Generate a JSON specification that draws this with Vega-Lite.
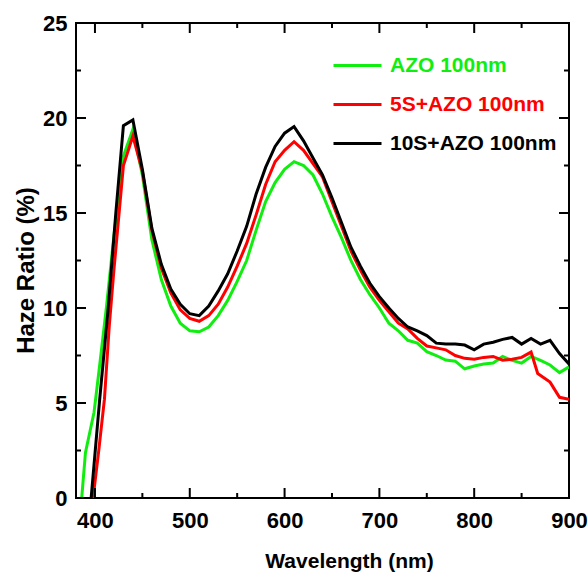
{
  "$schema": "https://vega.github.io/schema/vega-lite/v6.json",
  "width": 493,
  "height": 475,
  "autosize": "none",
  "padding": {"left": 76, "top": 23, "right": 19, "bottom": 78},
  "background": "white",
  "config": {
    "view": {"stroke": "black", "strokeWidth": 2},
    "font": "Liberation Sans",
    "axis": {"grid": false, "domain": false, "ticks": false, "labelColor": "black", "titleColor": "black", "labelFont": "Liberation Sans", "titleFont": "Liberation Sans"}
  },
  "datasets": {
    "xmajor": [{"wl": 400}, {"wl": 500}, {"wl": 600}, {"wl": 700}, {"wl": 800}, {"wl": 900}],
    "xminor": [{"wl": 450}, {"wl": 550}, {"wl": 650}, {"wl": 750}, {"wl": 850}],
    "ymajor": [{"v": 0}, {"v": 5}, {"v": 10}, {"v": 15}, {"v": 20}, {"v": 25}],
    "yminor": [{"v": 2.5}, {"v": 7.5}, {"v": 12.5}, {"v": 17.5}, {"v": 22.5}],
    "haze": [
    {"s": "AZO 100nm", "wl": 386, "v": 0},
    {"s": "AZO 100nm", "wl": 390, "v": 2.4},
    {"s": "AZO 100nm", "wl": 399, "v": 4.5},
    {"s": "AZO 100nm", "wl": 405, "v": 7.0},
    {"s": "AZO 100nm", "wl": 412, "v": 10.0},
    {"s": "AZO 100nm", "wl": 420, "v": 13.8},
    {"s": "AZO 100nm", "wl": 430, "v": 18.0},
    {"s": "AZO 100nm", "wl": 440, "v": 19.4},
    {"s": "AZO 100nm", "wl": 450, "v": 17.0},
    {"s": "AZO 100nm", "wl": 460, "v": 13.6},
    {"s": "AZO 100nm", "wl": 470, "v": 11.5},
    {"s": "AZO 100nm", "wl": 480, "v": 10.1},
    {"s": "AZO 100nm", "wl": 490, "v": 9.2},
    {"s": "AZO 100nm", "wl": 500, "v": 8.8},
    {"s": "AZO 100nm", "wl": 510, "v": 8.75},
    {"s": "AZO 100nm", "wl": 520, "v": 9.0},
    {"s": "AZO 100nm", "wl": 530, "v": 9.6},
    {"s": "AZO 100nm", "wl": 540, "v": 10.4},
    {"s": "AZO 100nm", "wl": 550, "v": 11.4},
    {"s": "AZO 100nm", "wl": 560, "v": 12.5},
    {"s": "AZO 100nm", "wl": 570, "v": 14.1},
    {"s": "AZO 100nm", "wl": 580, "v": 15.6},
    {"s": "AZO 100nm", "wl": 590, "v": 16.6},
    {"s": "AZO 100nm", "wl": 600, "v": 17.3},
    {"s": "AZO 100nm", "wl": 610, "v": 17.7},
    {"s": "AZO 100nm", "wl": 620, "v": 17.5},
    {"s": "AZO 100nm", "wl": 630, "v": 17.0},
    {"s": "AZO 100nm", "wl": 640, "v": 16.0},
    {"s": "AZO 100nm", "wl": 650, "v": 14.8},
    {"s": "AZO 100nm", "wl": 660, "v": 13.7},
    {"s": "AZO 100nm", "wl": 670, "v": 12.5},
    {"s": "AZO 100nm", "wl": 680, "v": 11.5},
    {"s": "AZO 100nm", "wl": 690, "v": 10.7},
    {"s": "AZO 100nm", "wl": 700, "v": 10.0},
    {"s": "AZO 100nm", "wl": 710, "v": 9.2},
    {"s": "AZO 100nm", "wl": 720, "v": 8.8},
    {"s": "AZO 100nm", "wl": 730, "v": 8.3},
    {"s": "AZO 100nm", "wl": 740, "v": 8.15},
    {"s": "AZO 100nm", "wl": 750, "v": 7.7},
    {"s": "AZO 100nm", "wl": 760, "v": 7.5},
    {"s": "AZO 100nm", "wl": 770, "v": 7.26},
    {"s": "AZO 100nm", "wl": 780, "v": 7.2},
    {"s": "AZO 100nm", "wl": 790, "v": 6.8},
    {"s": "AZO 100nm", "wl": 800, "v": 6.95},
    {"s": "AZO 100nm", "wl": 810, "v": 7.05},
    {"s": "AZO 100nm", "wl": 820, "v": 7.1},
    {"s": "AZO 100nm", "wl": 830, "v": 7.45},
    {"s": "AZO 100nm", "wl": 840, "v": 7.24},
    {"s": "AZO 100nm", "wl": 850, "v": 7.1},
    {"s": "AZO 100nm", "wl": 860, "v": 7.45},
    {"s": "AZO 100nm", "wl": 870, "v": 7.24},
    {"s": "AZO 100nm", "wl": 880, "v": 7.0},
    {"s": "AZO 100nm", "wl": 890, "v": 6.6},
    {"s": "AZO 100nm", "wl": 900, "v": 6.9},

    {"s": "5S+AZO 100nm", "wl": 398, "v": 0},
    {"s": "5S+AZO 100nm", "wl": 404, "v": 2.5},
    {"s": "5S+AZO 100nm", "wl": 410, "v": 5.2},
    {"s": "5S+AZO 100nm", "wl": 415, "v": 9.0},
    {"s": "5S+AZO 100nm", "wl": 420, "v": 12.0},
    {"s": "5S+AZO 100nm", "wl": 430, "v": 17.5},
    {"s": "5S+AZO 100nm", "wl": 440, "v": 19.05},
    {"s": "5S+AZO 100nm", "wl": 450, "v": 17.2},
    {"s": "5S+AZO 100nm", "wl": 460, "v": 14.1},
    {"s": "5S+AZO 100nm", "wl": 470, "v": 12.1},
    {"s": "5S+AZO 100nm", "wl": 480, "v": 10.8},
    {"s": "5S+AZO 100nm", "wl": 490, "v": 9.9},
    {"s": "5S+AZO 100nm", "wl": 500, "v": 9.45},
    {"s": "5S+AZO 100nm", "wl": 510, "v": 9.3},
    {"s": "5S+AZO 100nm", "wl": 520, "v": 9.6},
    {"s": "5S+AZO 100nm", "wl": 530, "v": 10.2},
    {"s": "5S+AZO 100nm", "wl": 540, "v": 11.1},
    {"s": "5S+AZO 100nm", "wl": 550, "v": 12.2},
    {"s": "5S+AZO 100nm", "wl": 560, "v": 13.4},
    {"s": "5S+AZO 100nm", "wl": 570, "v": 14.9},
    {"s": "5S+AZO 100nm", "wl": 580, "v": 16.5},
    {"s": "5S+AZO 100nm", "wl": 590, "v": 17.7},
    {"s": "5S+AZO 100nm", "wl": 600, "v": 18.3},
    {"s": "5S+AZO 100nm", "wl": 610, "v": 18.75},
    {"s": "5S+AZO 100nm", "wl": 620, "v": 18.3},
    {"s": "5S+AZO 100nm", "wl": 630, "v": 17.6},
    {"s": "5S+AZO 100nm", "wl": 640, "v": 16.9},
    {"s": "5S+AZO 100nm", "wl": 650, "v": 15.6},
    {"s": "5S+AZO 100nm", "wl": 660, "v": 14.3},
    {"s": "5S+AZO 100nm", "wl": 670, "v": 13.0},
    {"s": "5S+AZO 100nm", "wl": 680, "v": 12.0},
    {"s": "5S+AZO 100nm", "wl": 690, "v": 11.1},
    {"s": "5S+AZO 100nm", "wl": 700, "v": 10.4},
    {"s": "5S+AZO 100nm", "wl": 710, "v": 9.8},
    {"s": "5S+AZO 100nm", "wl": 720, "v": 9.2},
    {"s": "5S+AZO 100nm", "wl": 730, "v": 8.9},
    {"s": "5S+AZO 100nm", "wl": 740, "v": 8.4},
    {"s": "5S+AZO 100nm", "wl": 750, "v": 8.0},
    {"s": "5S+AZO 100nm", "wl": 760, "v": 7.9},
    {"s": "5S+AZO 100nm", "wl": 770, "v": 7.8},
    {"s": "5S+AZO 100nm", "wl": 780, "v": 7.5},
    {"s": "5S+AZO 100nm", "wl": 790, "v": 7.35},
    {"s": "5S+AZO 100nm", "wl": 800, "v": 7.3},
    {"s": "5S+AZO 100nm", "wl": 810, "v": 7.4},
    {"s": "5S+AZO 100nm", "wl": 820, "v": 7.45},
    {"s": "5S+AZO 100nm", "wl": 830, "v": 7.25},
    {"s": "5S+AZO 100nm", "wl": 840, "v": 7.3},
    {"s": "5S+AZO 100nm", "wl": 850, "v": 7.4},
    {"s": "5S+AZO 100nm", "wl": 860, "v": 7.68},
    {"s": "5S+AZO 100nm", "wl": 867, "v": 6.55},
    {"s": "5S+AZO 100nm", "wl": 880, "v": 6.1},
    {"s": "5S+AZO 100nm", "wl": 890, "v": 5.3},
    {"s": "5S+AZO 100nm", "wl": 900, "v": 5.2},

    {"s": "10S+AZO 100nm", "wl": 396, "v": 0},
    {"s": "10S+AZO 100nm", "wl": 405, "v": 5.2},
    {"s": "10S+AZO 100nm", "wl": 414, "v": 10.0},
    {"s": "10S+AZO 100nm", "wl": 422, "v": 15.0},
    {"s": "10S+AZO 100nm", "wl": 430, "v": 19.6},
    {"s": "10S+AZO 100nm", "wl": 440, "v": 19.9},
    {"s": "10S+AZO 100nm", "wl": 450, "v": 17.3},
    {"s": "10S+AZO 100nm", "wl": 460, "v": 14.2},
    {"s": "10S+AZO 100nm", "wl": 470, "v": 12.3},
    {"s": "10S+AZO 100nm", "wl": 480, "v": 11.0},
    {"s": "10S+AZO 100nm", "wl": 490, "v": 10.2},
    {"s": "10S+AZO 100nm", "wl": 500, "v": 9.7},
    {"s": "10S+AZO 100nm", "wl": 510, "v": 9.6},
    {"s": "10S+AZO 100nm", "wl": 520, "v": 10.1},
    {"s": "10S+AZO 100nm", "wl": 530, "v": 10.9},
    {"s": "10S+AZO 100nm", "wl": 540, "v": 11.8},
    {"s": "10S+AZO 100nm", "wl": 550, "v": 13.0},
    {"s": "10S+AZO 100nm", "wl": 560, "v": 14.3},
    {"s": "10S+AZO 100nm", "wl": 570, "v": 16.0},
    {"s": "10S+AZO 100nm", "wl": 580, "v": 17.4},
    {"s": "10S+AZO 100nm", "wl": 590, "v": 18.5},
    {"s": "10S+AZO 100nm", "wl": 600, "v": 19.2},
    {"s": "10S+AZO 100nm", "wl": 610, "v": 19.55},
    {"s": "10S+AZO 100nm", "wl": 620, "v": 18.8},
    {"s": "10S+AZO 100nm", "wl": 630, "v": 17.9},
    {"s": "10S+AZO 100nm", "wl": 640, "v": 17.0},
    {"s": "10S+AZO 100nm", "wl": 650, "v": 15.8},
    {"s": "10S+AZO 100nm", "wl": 660, "v": 14.5},
    {"s": "10S+AZO 100nm", "wl": 670, "v": 13.2},
    {"s": "10S+AZO 100nm", "wl": 680, "v": 12.2},
    {"s": "10S+AZO 100nm", "wl": 690, "v": 11.3},
    {"s": "10S+AZO 100nm", "wl": 700, "v": 10.6},
    {"s": "10S+AZO 100nm", "wl": 710, "v": 10.0},
    {"s": "10S+AZO 100nm", "wl": 720, "v": 9.45},
    {"s": "10S+AZO 100nm", "wl": 730, "v": 9.0},
    {"s": "10S+AZO 100nm", "wl": 740, "v": 8.8},
    {"s": "10S+AZO 100nm", "wl": 750, "v": 8.55},
    {"s": "10S+AZO 100nm", "wl": 760, "v": 8.15},
    {"s": "10S+AZO 100nm", "wl": 770, "v": 8.1},
    {"s": "10S+AZO 100nm", "wl": 780, "v": 8.1},
    {"s": "10S+AZO 100nm", "wl": 790, "v": 8.05},
    {"s": "10S+AZO 100nm", "wl": 800, "v": 7.8},
    {"s": "10S+AZO 100nm", "wl": 810, "v": 8.1},
    {"s": "10S+AZO 100nm", "wl": 820, "v": 8.2},
    {"s": "10S+AZO 100nm", "wl": 830, "v": 8.35},
    {"s": "10S+AZO 100nm", "wl": 840, "v": 8.45},
    {"s": "10S+AZO 100nm", "wl": 850, "v": 8.1},
    {"s": "10S+AZO 100nm", "wl": 860, "v": 8.4},
    {"s": "10S+AZO 100nm", "wl": 870, "v": 8.1},
    {"s": "10S+AZO 100nm", "wl": 880, "v": 8.3},
    {"s": "10S+AZO 100nm", "wl": 890, "v": 7.6},
    {"s": "10S+AZO 100nm", "wl": 900, "v": 7.05}
  ]},
  "layer": [
    {
      "data": {"name": "haze"},
      "mark": {"type": "line", "strokeWidth": 3, "clip": true},
      "encoding": {
        "x": {"field": "wl", "type": "quantitative", "scale": {"domain": [380, 900], "nice": false, "zero": false},
          "axis": {"orient": "bottom", "values": [400, 500, 600, 700, 800, 900],
            "labelPadding": 12, "labelFontSize": 22, "labelFontWeight": "bold", "labelFlush": false,
            "title": "Wavelength (nm)", "titleFontSize": 21, "titleFontWeight": "bold",
            "titleX": 273, "titleY": 69, "titleBaseline": "alphabetic", "titleAnchor": null, "titleAlign": "center"}},
        "y": {"field": "v", "type": "quantitative", "scale": {"domain": [0, 25], "nice": false, "zero": false},
          "axis": {"orient": "left", "values": [0, 5, 10, 15, 20, 25],
            "labelPadding": 9, "labelFontSize": 22, "labelFontWeight": "bold", "labelFlush": false,
            "title": "Haze Ratio (%)", "titleFontSize": 24, "titleFontWeight": "bold",
            "titleX": -43, "titleY": 247, "titleBaseline": "alphabetic", "titleAngle": -90, "titleAnchor": null, "titleAlign": "center"}},
        "color": {"field": "s", "type": "nominal",
          "scale": {"domain": ["AZO 100nm", "5S+AZO 100nm", "10S+AZO 100nm"], "range": ["#10ee10", "#ff0000", "#000000"]},
          "legend": {"orient": "none", "legendX": 256, "legendY": 25, "title": null, "symbolType": "stroke", "symbolSize": 2304,
            "symbolStrokeWidth": 3, "labelFontSize": 21, "labelFontWeight": "bold", "labelOffset": 7, "clipHeight": 35, "rowPadding": 4,
            "padding": 0, "labelLimit": 400,
            "encode": {"labels": {"update": {"fill": {"scale": "color", "field": "value"}}}}}}
      }
    },
    {
      "data": {"name": "xmajor"},
      "mark": {"type": "tick", "orient": "vertical", "size": 10, "thickness": 2, "color": "black", "opacity": 1, "yOffset": -5},
      "encoding": {"x": {"field": "wl", "type": "quantitative", "axis": null}, "y": {"datum": 0, "type": "quantitative", "axis": null}}
    },
    {
      "data": {"name": "xminor"},
      "mark": {"type": "tick", "orient": "vertical", "size": 5, "thickness": 2, "color": "black", "opacity": 1, "yOffset": -2.5},
      "encoding": {"x": {"field": "wl", "type": "quantitative", "axis": null}, "y": {"datum": 0, "type": "quantitative", "axis": null}}
    },
    {
      "data": {"name": "xmajor"},
      "mark": {"type": "tick", "orient": "vertical", "size": 10, "thickness": 2, "color": "black", "opacity": 1, "yOffset": 5},
      "encoding": {"x": {"field": "wl", "type": "quantitative", "axis": null}, "y": {"datum": 25, "type": "quantitative", "axis": null}}
    },
    {
      "data": {"name": "xminor"},
      "mark": {"type": "tick", "orient": "vertical", "size": 5, "thickness": 2, "color": "black", "opacity": 1, "yOffset": 2.5},
      "encoding": {"x": {"field": "wl", "type": "quantitative", "axis": null}, "y": {"datum": 25, "type": "quantitative", "axis": null}}
    },
    {
      "data": {"name": "ymajor"},
      "mark": {"type": "tick", "orient": "horizontal", "size": 10, "thickness": 2, "color": "black", "opacity": 1, "xOffset": 5},
      "encoding": {"y": {"field": "v", "type": "quantitative", "axis": null}, "x": {"datum": 380, "type": "quantitative", "axis": null}}
    },
    {
      "data": {"name": "yminor"},
      "mark": {"type": "tick", "orient": "horizontal", "size": 5, "thickness": 2, "color": "black", "opacity": 1, "xOffset": 2.5},
      "encoding": {"y": {"field": "v", "type": "quantitative", "axis": null}, "x": {"datum": 380, "type": "quantitative", "axis": null}}
    },
    {
      "data": {"name": "ymajor"},
      "mark": {"type": "tick", "orient": "horizontal", "size": 10, "thickness": 2, "color": "black", "opacity": 1, "xOffset": -5},
      "encoding": {"y": {"field": "v", "type": "quantitative", "axis": null}, "x": {"datum": 900, "type": "quantitative", "axis": null}}
    },
    {
      "data": {"name": "yminor"},
      "mark": {"type": "tick", "orient": "horizontal", "size": 5, "thickness": 2, "color": "black", "opacity": 1, "xOffset": -2.5},
      "encoding": {"y": {"field": "v", "type": "quantitative", "axis": null}, "x": {"datum": 900, "type": "quantitative", "axis": null}}
    }
  ],
  "resolve": {"axis": {"x": "independent", "y": "independent"}}
}
